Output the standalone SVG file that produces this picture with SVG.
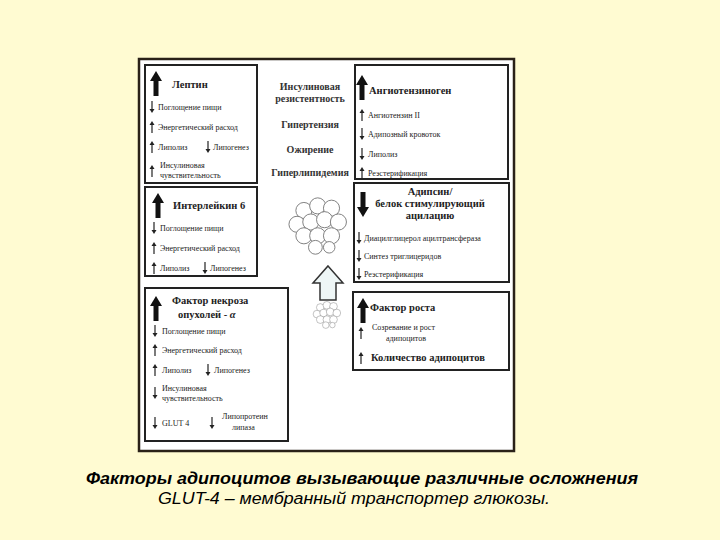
<svg xmlns="http://www.w3.org/2000/svg" xmlns:xlink="http://www.w3.org/1999/xlink" width="720" height="540" viewBox="0 0 720 540">
<style>
.b{fill:#fff;stroke:#222;stroke-width:2}
.t{font-family:"Liberation Serif",serif;font-size:8px;fill:#222}
.h{font-family:"Liberation Serif",serif;font-size:10.5px;font-weight:bold;fill:#222}
.c{font-family:"Liberation Serif",serif;font-size:10px;font-weight:bold;fill:#333;text-anchor:middle}
.cap{font-family:"Liberation Sans",sans-serif;font-size:16px;font-style:italic;text-anchor:middle;fill:#000}
.cell{fill:#fff;stroke:#777;stroke-width:0.8}
</style>
<defs>
<g id="up"><line x1="0" y1="-4" x2="0" y2="6" stroke="#222" stroke-width="1.2"/><polygon points="-2.5,-2 0,-6 2.5,-2" fill="#222"/></g>
<g id="dn"><line x1="0" y1="-6" x2="0" y2="4" stroke="#222" stroke-width="1.2"/><polygon points="-2.5,2 0,6 2.5,2" fill="#222"/></g>
<g id="bigup"><rect x="-2.5" y="-4" width="5" height="16" fill="#111"/><polygon points="-6,-3 0,-13 6,-3" fill="#111"/></g>
<g id="bigdn"><rect x="-2.5" y="-12" width="5" height="16" fill="#111"/><polygon points="-6,3 0,13 6,3" fill="#111"/></g>
<g id="cluster">
<circle class="cell" cx="-14" cy="-10" r="7"/><circle class="cell" cx="-2" cy="-14" r="7"/><circle class="cell" cx="10" cy="-12" r="7"/>
<circle class="cell" cx="-20" cy="2" r="7"/><circle class="cell" cx="-8" cy="0" r="7"/><circle class="cell" cx="4" cy="-2" r="7"/><circle class="cell" cx="16" cy="0" r="7"/>
<circle class="cell" cx="-14" cy="12" r="7"/><circle class="cell" cx="-2" cy="12" r="7"/><circle class="cell" cx="10" cy="12" r="7"/>
<circle class="cell" cx="-4" cy="22" r="6"/><circle class="cell" cx="8" cy="22" r="5"/>
</g>
</defs>
<rect width="720" height="540" fill="#FFFBD2"/>
<rect x="139" y="59" width="375" height="392" fill="#fff" stroke="#2a2118" stroke-width="2.5"/>

<g id="leptin">
<rect class="b" x="145" y="65" width="112" height="118"/>
<use href="#bigup" x="156" y="84"/><text class="h" x="172" y="88">Лептин</text>
<use href="#dn" x="152" y="107"/><text class="t" x="158" y="110">Поглощение пищи</text>
<use href="#up" x="152" y="127"/><text class="t" x="158" y="130">Энергетический расход</text>
<use href="#up" x="152" y="147"/><text class="t" x="158" y="150">Липолиз</text>
<use href="#dn" x="208" y="147"/><text class="t" x="213" y="150">Липогенез</text>
<use href="#up" x="152" y="171"/><text class="t" x="160" y="168">Инсулиновая</text><text class="t" x="160" y="178">чувствительность</text>
</g>

<g id="center">
<text class="c" x="310" y="90">Инсулиновая</text><text class="c" x="310" y="102">резистентность</text>
<text class="c" x="310" y="128">Гипертензия</text>
<text class="c" x="310" y="153">Ожирение</text>
<text class="c" x="310" y="176">Гиперлипидемия</text>
</g>

<g id="il6">
<rect class="b" x="145" y="187" width="112" height="89"/>
<use href="#bigup" x="158" y="206"/><text class="h" x="173" y="209">Интерлейкин  6</text>
<use href="#dn" x="154" y="228"/><text class="t" x="160" y="231">Поглощение пищи</text>
<use href="#up" x="154" y="248"/><text class="t" x="160" y="251">Энергетический расход</text>
<use href="#up" x="154" y="268"/><text class="t" x="160" y="271">Липолиз</text>
<use href="#dn" x="205" y="268"/><text class="t" x="210" y="271">Липогенез</text>
</g>

<g id="tnf">
<rect class="b" x="145" y="288" width="143" height="153"/>
<use href="#bigup" x="156" y="309"/><text class="h" x="172" y="304">Фактор некроза</text><text class="h" x="178" y="318">опухолей - <tspan font-style="italic">α</tspan></text>
<use href="#dn" x="155" y="331"/><text class="t" x="162" y="334">Поглощение пищи</text>
<use href="#up" x="155" y="350"/><text class="t" x="162" y="353">Энергетический расход</text>
<use href="#up" x="155" y="370"/><text class="t" x="162" y="373">Липолиз</text>
<use href="#dn" x="208" y="370"/><text class="t" x="214" y="373">Липогенез</text>
<use href="#dn" x="155" y="393"/><text class="t" x="162" y="391">Инсулиновая</text><text class="t" x="162" y="401">чувствительность</text>
<use href="#dn" x="155" y="423"/><text class="t" x="162" y="426">GLUT 4</text>
<use href="#dn" x="212" y="423"/><text class="t" x="222" y="419">Липопротеин</text><text class="t" x="232" y="430">липаза</text>
</g>

<g id="angio">
<rect class="b" x="355" y="65" width="153" height="114"/>
<use href="#bigup" x="362" y="88"/><text class="h" x="369" y="94">Ангиотензиноген</text>
<use href="#up" x="362" y="115"/><text class="t" x="368" y="118">Ангиотензин II</text>
<use href="#dn" x="362" y="134"/><text class="t" x="368" y="137">Адипозный кровоток</text>
<use href="#dn" x="362" y="154"/><text class="t" x="368" y="157">Липолиз</text>
<use href="#up" x="362" y="173"/><text class="t" x="368" y="176">Реэстерификация</text>
</g>

<g id="adipsin">
<rect class="b" x="354" y="183" width="155" height="99"/>
<use href="#bigdn" x="363" y="204"/>
<text class="h" x="430" y="195" text-anchor="middle">Адипсин/</text>
<text class="h" x="430" y="207" text-anchor="middle">белок стимулирующий</text>
<text class="h" x="430" y="219" text-anchor="middle">ацилацию</text>
<use href="#dn" x="359" y="238"/><text class="t" x="364" y="241">Диацилглицерол ацилтрансфераза</text>
<use href="#dn" x="359" y="256"/><text class="t" x="364" y="259">Синтез триглицеридов</text>
<use href="#dn" x="359" y="274"/><text class="t" x="364" y="277">Реэстерификация</text>
</g>

<g id="growth">
<rect class="b" x="353" y="292" width="156" height="78"/>
<use href="#bigup" x="363" y="311"/><text class="h" x="370" y="311">Фактор роста</text>
<use href="#up" x="361" y="333"/><text class="t" x="372" y="330">Созревание и рост</text><text class="t" x="386" y="341">адипоцитов</text>
<use href="#up" x="361" y="358"/><text class="h" x="371" y="361" font-size="9.5">Количество адипоцитов</text>
</g>

<g id="cells">
<use href="#cluster" transform="translate(320,222) scale(1.15)"/>
<use href="#cluster" transform="translate(328,313) scale(0.55)"/>
<polygon points="328,266 343,283 336,283 336,300 320,300 320,283 313,283" fill="#EEF6F6" stroke="#333" stroke-width="1.5"/>
</g>

<text class="cap" x="362" y="484" font-weight="bold" textLength="552" lengthAdjust="spacingAndGlyphs">Факторы адипоцитов вызывающие различные осложнения</text>
<text class="cap" x="354" y="504" textLength="392" lengthAdjust="spacingAndGlyphs">GLUT-4 – мембранный транспортер глюкозы.</text>
</svg>
